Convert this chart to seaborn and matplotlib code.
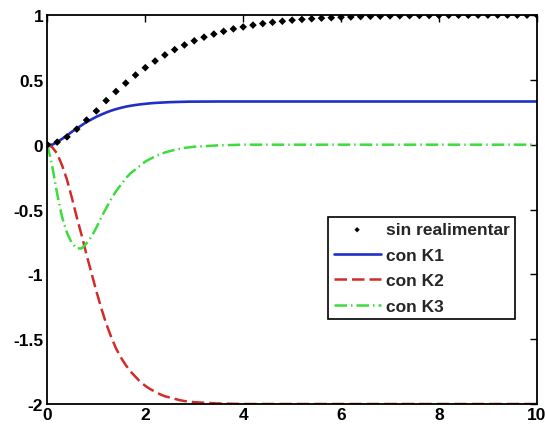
import matplotlib
matplotlib.use("Agg")
import matplotlib.pyplot as plt
import seaborn as sns
import pandas as pd

# ---- data ----
t_dots = [0.0, 0.2, 0.4, 0.6, 0.8, 1.0, 1.2, 1.4, 1.6, 1.8, 2.0, 2.2, 2.4, 2.6, 2.8,
          3.0, 3.2, 3.4, 3.6, 3.8, 4.0, 4.2, 4.4, 4.6, 4.8, 5.0, 5.2, 5.4, 5.6, 5.8,
          6.0, 6.2, 6.4, 6.6, 6.8, 7.0, 7.2, 7.4, 7.6, 7.8, 8.0, 8.2, 8.4, 8.6, 8.8,
          9.0, 9.2, 9.4, 9.6, 9.8, 10.0]
sin_realimentar = [0.0, 0.02, 0.06, 0.12, 0.19, 0.26, 0.34, 0.41, 0.475, 0.537, 0.594,
                   0.645, 0.692, 0.733, 0.769, 0.801, 0.829, 0.853, 0.874, 0.893, 0.908,
                   0.922, 0.934, 0.944, 0.952, 0.96, 0.966, 0.971, 0.976, 0.979, 0.983,
                   0.985, 0.988, 0.99, 0.991, 0.993, 0.994, 0.995, 0.996, 0.996, 0.997,
                   0.998, 0.998, 0.998, 0.999, 0.999, 0.999, 0.999, 0.999, 0.999, 1.0]

t_lines = [0.0, 0.1, 0.2, 0.3, 0.4, 0.5, 0.6, 0.7, 0.8, 0.9, 1.0, 1.1, 1.2, 1.3, 1.4,
           1.5, 1.6, 1.7, 1.8, 1.9, 2.0, 2.1, 2.2, 2.3, 2.4, 2.5, 2.6, 2.7, 2.8, 2.9,
           3.0, 3.5, 4.0, 5.0, 6.0, 7.0, 8.0, 9.0, 10.0]
con_k1 = [0.0, 0.0, 0.02, 0.045, 0.07, 0.10, 0.125, 0.15, 0.175, 0.195, 0.215, 0.232,
          0.248, 0.262, 0.274, 0.284, 0.293, 0.30, 0.306, 0.311, 0.315, 0.319, 0.322,
          0.324, 0.326, 0.328, 0.329, 0.330, 0.331, 0.332, 0.332, 0.333, 0.333, 0.333,
          0.333, 0.333, 0.333, 0.333, 0.333]
con_k2 = [0.0, -0.02, -0.07, -0.16, -0.27, -0.41, -0.56, -0.70, -0.85, -0.99, -1.13,
          -1.26, -1.38, -1.48, -1.57, -1.64, -1.70, -1.75, -1.79, -1.83, -1.86, -1.885,
          -1.905, -1.925, -1.94, -1.95, -1.96, -1.97, -1.977, -1.982, -1.986, -1.996,
          -2.0, -2.0, -2.0, -2.0, -2.0, -2.0, -2.0]
con_k3 = [0.0, -0.17, -0.38, -0.56, -0.68, -0.76, -0.80, -0.80, -0.76, -0.71, -0.64,
          -0.56, -0.49, -0.42, -0.36, -0.31, -0.26, -0.22, -0.19, -0.16, -0.13, -0.11,
          -0.09, -0.075, -0.06, -0.05, -0.04, -0.032, -0.025, -0.02, -0.016, -0.005,
          0.0, 0.0, 0.0, 0.0, 0.0, 0.0, 0.0]

labels = ["sin realimentar", "con K1", "con K2", "con K3"]
x_ticks = [0, 2, 4, 6, 8, 10]
x_tick_labels = ["0", "2", "4", "6", "8", "10"]
y_ticks = [1, 0.5, 0, -0.5, -1, -1.5, -2]
y_tick_labels = ["1", "0.5", "0", "-0.5", "-1", "-1.5", "-2"]

# ---- style ----
sns.set_style("white")
plt.rcParams["font.family"] = ["Liberation Sans", "DejaVu Sans"]
plt.rcParams["font.weight"] = "bold"

fig = plt.figure(figsize=(5.45, 4.27), dpi=100)
ax = fig.add_axes([0.087, 0.0515, 0.898, 0.911])

df_dots = pd.DataFrame({"t": t_dots, "y": sin_realimentar})
df_lines = pd.DataFrame({"t": t_lines, "k1": con_k1, "k2": con_k2, "k3": con_k3})

sns.scatterplot(data=df_dots, x="t", y="y", ax=ax, marker="D", s=15, color="black",
                edgecolor="none", label=labels[0], zorder=3)
sns.lineplot(data=df_lines, x="t", y="k1", ax=ax, color="#1f2fc8", lw=1.9,
             label=labels[1], zorder=2)
sns.lineplot(data=df_lines, x="t", y="k2", ax=ax, color="#d42a2a", lw=1.8,
             linestyle=(0, (5, 2)), label=labels[2], zorder=2)
sns.lineplot(data=df_lines, x="t", y="k3", ax=ax, color="#3ddc3d", lw=1.8,
             linestyle=(0, (5, 1.6, 0.6, 1.6)), label=labels[3], zorder=2)

ax.set_xlim(0, 10)
ax.set_ylim(-2, 1)
ax.set_xticks(x_ticks)
ax.set_xticklabels(x_tick_labels)
ax.set_yticks(y_ticks)
ax.set_yticklabels(y_tick_labels)
ax.set_xlabel("")
ax.set_ylabel("")
ax.tick_params(direction="in", top=True, right=True, length=5, width=1,
               labelsize=12.5, colors="black")
ax.tick_params(axis="y", pad=3)
ax.tick_params(axis="x", pad=2)
for sp in ax.spines.values():
    sp.set_color("black")
    sp.set_linewidth(1.3)

leg = ax.legend(loc="lower right", bbox_to_anchor=(0.955, 0.218), fontsize=12.5,
                frameon=True, fancybox=False, framealpha=1, edgecolor="black",
                handlelength=2.7, borderpad=0.3, labelspacing=0.6, markerscale=0.7,
                handletextpad=0.3, borderaxespad=0)
leg.get_frame().set_linewidth(1.2)

fig.savefig("out.png", dpi=100)
